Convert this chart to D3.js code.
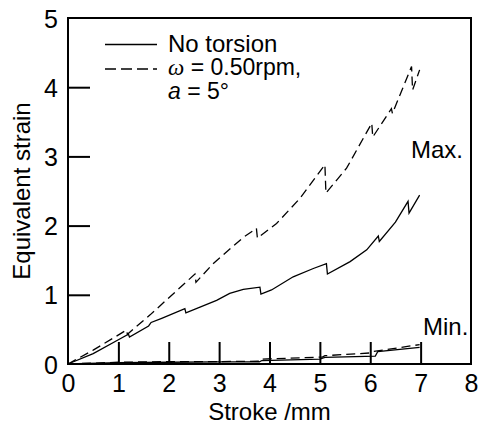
<!DOCTYPE html>
<html>
<head>
<meta charset="utf-8">
<script src="https://cdn.jsdelivr.net/npm/d3@7"></script>
<style>
  body { margin: 0; background: #fff; }
  svg { display: block; font-family: Arial, "Liberation Sans", sans-serif; }
</style>
</head>
<body>
<svg id="chart" width="482" height="425"></svg>
<script>
// data: [stroke mm, equivalent strain]
const noTorsionMax = [[0,0],[0.5,0.15],[1.0,0.35],[1.2,0.43],[1.22,0.39],[1.6,0.55],[1.65,0.6],[1.86,0.66],
  [2.32,0.80],[2.34,0.74],[2.95,0.92],[3.21,1.02],[3.48,1.08],[3.81,1.11],[3.83,1.01],[4.04,1.07],
  [4.47,1.26],[4.87,1.38],[5.13,1.45],[5.15,1.30],[5.6,1.48],[5.93,1.65],[6.16,1.85],[6.18,1.77],
  [6.5,2.05],[6.75,2.35],[6.77,2.18],[6.98,2.44]];
const torsionMax = [[0,0],[0.5,0.2],[1.16,0.49],[1.18,0.43],[1.63,0.71],[2.52,1.30],[2.54,1.18],
  [2.88,1.45],[3.48,1.83],[3.74,1.96],[3.76,1.82],[4.14,2.03],[4.6,2.39],[5.10,2.88],[5.12,2.47],
  [5.53,2.83],[6.03,3.48],[6.05,3.28],[6.42,3.69],[6.44,3.62],[6.82,4.30],[6.84,3.96],[6.98,4.25]];
const noTorsionMin = [[0,0],[1,0.02],[2,0.025],[3,0.03],[3.8,0.03],[3.85,0.05],[5.0,0.07],[5.1,0.095],
  [6.1,0.115],[6.15,0.18],[6.98,0.24]];
const torsionMin = [[0,0],[1,0.025],[2,0.035],[3,0.035],[3.78,0.04],[3.8,0.07],[5.05,0.10],[5.1,0.12],
  [6.0,0.16],[6.05,0.18],[6.98,0.28]];
const xTicks = [0,1,2,3,4,5,6,7,8];
const yTicks = [0,1,2,3,4,5];

const svg = d3.select("#chart");
const margin = { top: 18, right: 11, bottom: 61, left: 68 };
const width = +svg.attr("width") - margin.left - margin.right;
const height = +svg.attr("height") - margin.top - margin.bottom;
const g = svg.append("g").attr("transform", `translate(${margin.left},${margin.top})`);

const x = d3.scaleLinear().domain([0, 8]).range([0, width]);
const y = d3.scaleLinear().domain([0, 5]).range([height, 0]);

// 눈금 (inward, long)
g.append("g")
  .attr("transform", `translate(0,${height})`)
  .call(d3.axisTop(x).tickValues(xTicks.slice(1, -1)).tickSize(22).tickFormat(""))
  .call(a => a.select(".domain").remove())
  .call(a => a.selectAll("line").attr("stroke", "#000").attr("stroke-width", 2));
g.append("g")
  .call(d3.axisRight(y).tickValues(yTicks.slice(1, -1)).tickSize(22).tickFormat(""))
  .call(a => a.select(".domain").remove())
  .call(a => a.selectAll("line").attr("stroke", "#000").attr("stroke-width", 2));

// tick labels
g.append("g")
  .attr("transform", `translate(0,${height})`)
  .call(d3.axisBottom(x).tickValues(xTicks).tickSize(0).tickPadding(10).tickFormat(d3.format("d")))
  .call(a => a.select(".domain").remove())
  .call(a => a.selectAll("text").attr("font-size", 25).attr("font-family", null).attr("fill", "#000").attr("dy", "0.72em"));
g.append("g")
  .call(d3.axisLeft(y).tickValues(yTicks).tickSize(0).tickPadding(10).tickFormat(d3.format("d")))
  .call(a => a.select(".domain").remove())
  .call(a => a.selectAll("text").attr("font-size", 25).attr("font-family", null).attr("fill", "#000").attr("dy", "0.36em"));

// frame
g.append("rect")
  .attr("width", width).attr("height", height)
  .attr("fill", "none").attr("stroke", "#000").attr("stroke-width", 2);

const line = d3.line().x(d => x(d[0])).y(d => y(d[1]));
const series = [
  { data: noTorsionMax, dash: null },
  { data: torsionMax, dash: "9,5" },
  { data: noTorsionMin, dash: null },
  { data: torsionMin, dash: "9,5" }
];
g.selectAll(".curve")
  .data(series)
  .enter()
  .append("path")
  .attr("class", "curve")
  .attr("d", d => line(d.data))
  .attr("fill", "none")
  .attr("stroke", "#000")
  .attr("stroke-width", 1.3)
  .attr("stroke-dasharray", d => d.dash);

// axis titles
svg.append("text")
  .attr("x", margin.left + width / 2).attr("y", 420)
  .attr("text-anchor", "middle").attr("font-size", 24)
  .text("Stroke /mm");
svg.append("text")
  .attr("transform", `translate(30,${margin.top + height / 2}) rotate(-90)`)
  .attr("text-anchor", "middle").attr("font-size", 24)
  .text("Equivalent strain");

// labels
svg.append("text").attr("x", 411).attr("y", 158).attr("font-size", 24).text("Max.");
svg.append("text").attr("x", 423).attr("y", 335).attr("font-size", 24).text("Min.");

// legend
const legend = svg.append("g");
legend.append("line").attr("x1", 105).attr("x2", 157).attr("y1", 44.5).attr("y2", 44.5)
  .attr("stroke", "#000").attr("stroke-width", 1.3);
legend.append("line").attr("x1", 105).attr("x2", 157).attr("y1", 69).attr("y2", 69)
  .attr("stroke", "#000").attr("stroke-width", 1.3).attr("stroke-dasharray", "11,5");
legend.append("text").attr("x", 168).attr("y", 52).attr("font-size", 24).text("No torsion");
const t2 = legend.append("text").attr("x", 168).attr("y", 75).attr("font-size", 23);
t2.append("tspan").attr("font-family", "'Liberation Serif', 'Times New Roman', serif").attr("font-style", "italic").text("ω");
t2.append("tspan").text(" = 0.50rpm,");
const t3 = legend.append("text").attr("x", 168).attr("y", 99).attr("font-size", 23);
t3.append("tspan").attr("font-style", "italic").text("a");
t3.append("tspan").text(" = 5°");
</script>
</body>
</html>
